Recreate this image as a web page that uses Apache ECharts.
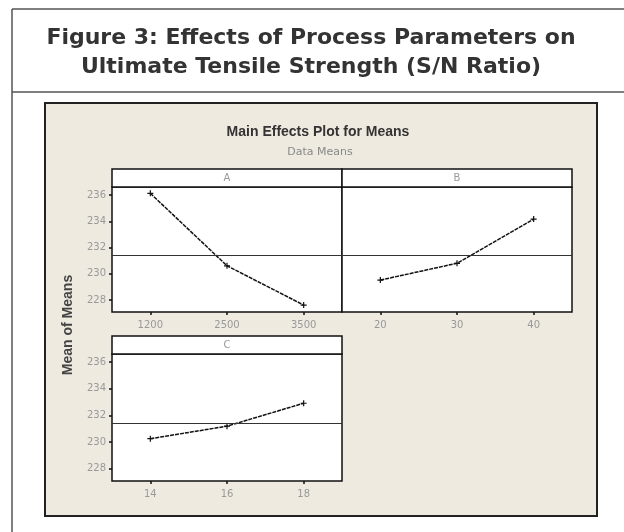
<!DOCTYPE html>
<html>
<head>
<meta charset="utf-8">
<script src="https://cdn.jsdelivr.net/npm/echarts@6/dist/echarts.min.js"></script>
<style>html,body{margin:0;padding:0;background:#fff;}#c{width:624px;height:532px;}</style>
</head>
<body>
<div id="c"></div>
<script>
// ---- data ----
const levelsA = ['1200', '2500', '3500'];
const meansA = [236.13, 230.61, 227.62];
const levelsB = ['20', '30', '40'];
const meansB = [229.52, 230.80, 234.17];
const levelsC = ['14', '16', '18'];
const meansC = [230.26, 231.20, 232.92];
const grandMean = 231.45;
const yTicks = [228, 230, 232, 234, 236];
const yMin = 227.09, yMax = 236.61;
const factorNames = ['A', 'B', 'C'];

const chart = echarts.init(document.getElementById('c'), null, {renderer: 'canvas'});
const plusSym = 'path://M4,0H6V4H10V6H6V10H4V6H0V4H4Z';
const labelFont = {color: '#999', fontSize: 10, fontFamily: 'DejaVu Sans'};

const grids = [
  {left: 112, top: 187, width: 230, height: 125},
  {left: 342, top: 187, width: 230, height: 125},
  {left: 112, top: 354, width: 230, height: 127}
].map(g => Object.assign(g, {show: true, backgroundColor: '#fff', borderColor: '#111', borderWidth: 1.5}));

const levels = [levelsA, levelsB, levelsC];
const means = [meansA, meansB, meansC];

const xAxes = levels.map((lv, i) => ({
  type: 'category', gridIndex: i, data: lv, boundaryGap: true,
  axisLine: {show: false},
  axisTick: {show: true, alignWithLabel: true, length: 3, lineStyle: {color: '#111', width: 1.5}},
  axisLabel: Object.assign({margin: 8}, labelFont),
  splitLine: {show: false}
}));

const yAxes = [0, 1, 2].map(i => ({
  type: 'value', gridIndex: i, min: yMin, max: yMax,
  show: i !== 1,
  axisLine: {show: false},
  axisTick: {show: true, length: 3, customValues: yTicks, lineStyle: {color: '#111', width: 1.5}},
  axisLabel: Object.assign({margin: 6, customValues: yTicks}, labelFont),
  splitLine: {show: false}
}));

const series = means.map((m, i) => ({
  type: 'line', xAxisIndex: i, yAxisIndex: i, data: m,
  symbol: plusSym, symbolSize: 6, showSymbol: true,
  itemStyle: {color: '#111'},
  lineStyle: {color: '#111', width: 1.5, type: [4, 1]},
  animation: false,
  markLine: {
    silent: true, symbol: 'none', label: {show: false},
    lineStyle: {color: '#333', width: 1.2, type: 'solid'},
    data: [{yAxis: grandMean}]
  }
}));

const strips = [
  {x: 112, y: 169, w: 230}, {x: 342, y: 169, w: 230}, {x: 112, y: 336, w: 230}
];
const graphic = [
  // outer frame
  {type: 'line', shape: {x1: 12, y1: 9, x2: 630, y2: 9}, style: {stroke: '#555', lineWidth: 1.5}, z: 1},
  {type: 'line', shape: {x1: 12, y1: 9, x2: 12, y2: 540}, style: {stroke: '#555', lineWidth: 1.5}, z: 1},
  {type: 'line', shape: {x1: 12, y1: 92, x2: 630, y2: 92}, style: {stroke: '#555', lineWidth: 1.5}, z: 1},
  {type: 'text', x: 311, y: 38, style: {text: 'Figure 3: Effects of Process Parameters on', fill: '#333', font: 'bold 22px "DejaVu Sans"', textAlign: 'center', textVerticalAlign: 'middle'}, z: 1},
  {type: 'text', x: 311, y: 67, style: {text: 'Ultimate Tensile Strength (S/N Ratio)', fill: '#333', font: 'bold 22px "DejaVu Sans"', textAlign: 'center', textVerticalAlign: 'middle'}, z: 1},
  // beige panel
  {type: 'rect', shape: {x: 45, y: 103, width: 552, height: 413}, style: {fill: '#EEEAE0', stroke: '#222', lineWidth: 2}, z: -10},
  {type: 'text', x: 318, y: 132, style: {text: 'Main Effects Plot for Means', fill: '#333', font: 'bold 14px "Liberation Sans"', textAlign: 'center', textVerticalAlign: 'middle'}, z: 1},
  {type: 'text', x: 320, y: 152, style: {text: 'Data Means', fill: '#888', font: '11px "DejaVu Sans"', textAlign: 'center', textVerticalAlign: 'middle'}, z: 1},
  {type: 'text', x: 68, y: 325, rotation: Math.PI / 2, style: {text: 'Mean of Means', fill: '#444', font: 'bold 14px "Liberation Sans"', textAlign: 'center', textVerticalAlign: 'middle'}, z: 1}
];
strips.forEach((s, i) => {
  graphic.push({type: 'rect', shape: {x: s.x, y: s.y, width: s.w, height: 18}, style: {fill: '#fff', stroke: '#111', lineWidth: 1.5}, z: 5});
  graphic.push({type: 'text', x: s.x + s.w / 2, y: s.y + 9, style: {text: factorNames[i], fill: '#999', font: '10px "DejaVu Sans"', textAlign: 'center', textVerticalAlign: 'middle'}, z: 6});
});

chart.setOption({
  animation: false,
  backgroundColor: '#fff',
  grid: grids,
  xAxis: xAxes,
  yAxis: yAxes,
  series: series,
  graphic: graphic
});
</script>
</body>
</html>
